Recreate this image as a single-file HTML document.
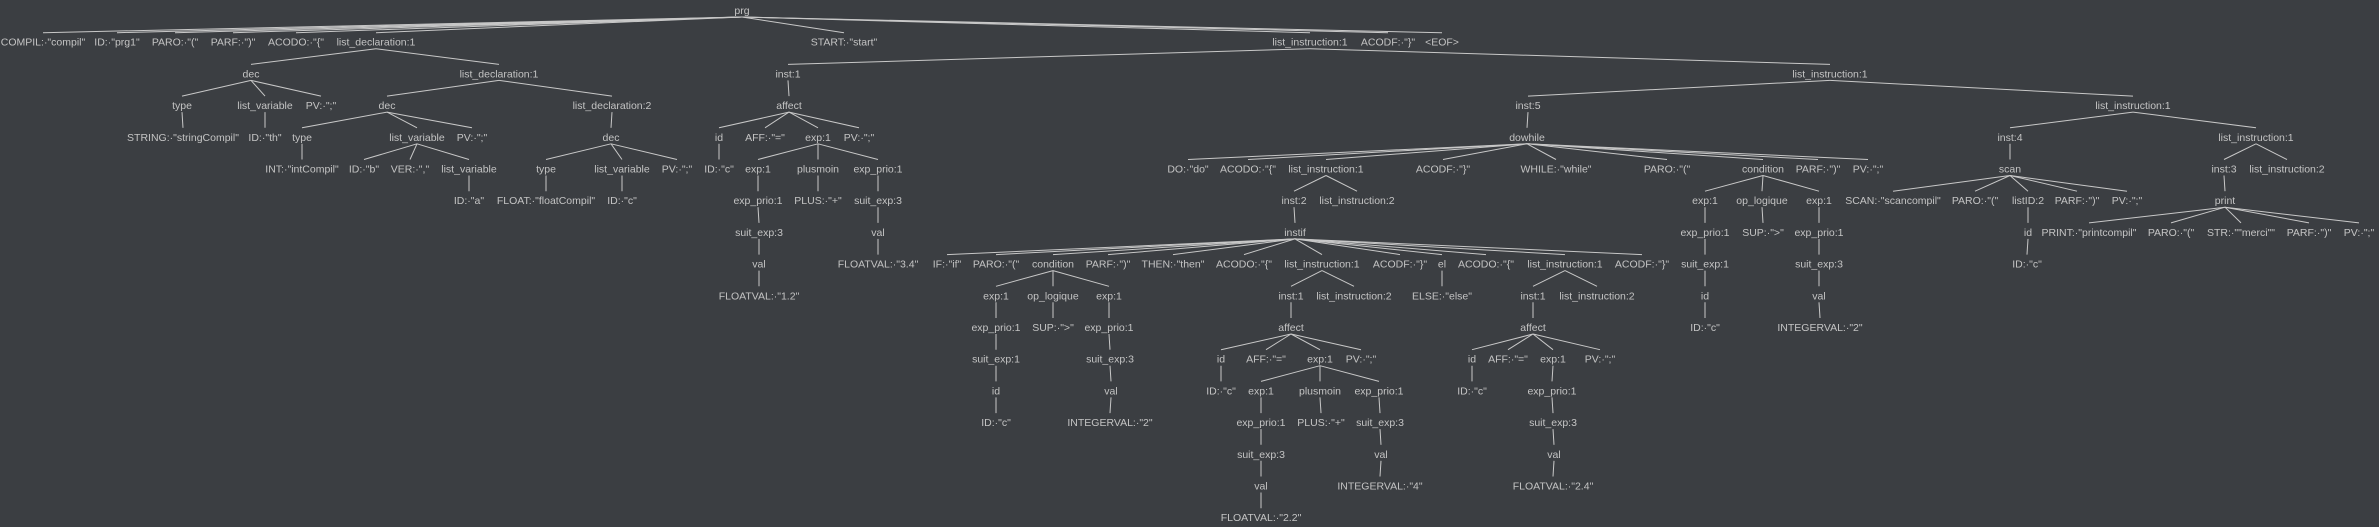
<!DOCTYPE html>
<html><head><meta charset="utf-8">
<style>
html,body{margin:0;padding:0;background:#3b3e42;width:2379px;height:527px;overflow:hidden}
svg{display:block}
text{font-family:"Liberation Sans",Arial,sans-serif;font-size:10.5px;fill:#c4c4c4;text-anchor:middle}
line{stroke:#c8c8c8;stroke-width:1}
</style></head><body>
<svg id="s" width="2379" height="527" xmlns="http://www.w3.org/2000/svg"></svg>
<script>
function n(l,x,c){return {l:l,x:x,c:c||[]};}
function L(l,x){return n(l,x);}
var tree=n('prg',742,[
 L('COMPIL:·"compil"',43),L('ID:·"prg1"',117),L('PARO:·"("',175),L('PARF:·")"',233),L('ACODO:·"{"',296),
 n('list_declaration:1',376,[
  n('dec',251,[n('type',182,[L('STRING:·"stringCompil"',183)]),n('list_variable',265,[L('ID:·"th"',265)]),L('PV:·";"',321)]),
  n('list_declaration:1',499,[
   n('dec',387,[n('type',302,[L('INT:·"intCompil"',302)]),
     n('list_variable',417,[L('ID:·"b"',364),L('VER:·","',410),n('list_variable',469,[L('ID:·"a"',469)])]),
     L('PV:·";"',472)]),
   n('list_declaration:2',612,[n('dec',611,[n('type',546,[L('FLOAT:·"floatCompil"',546)]),n('list_variable',622,[L('ID:·"c"',622)]),L('PV:·";"',677)])])
  ])
 ]),
 L('START:·"start"',844),
 n('list_instruction:1',1310,[
  n('inst:1',788,[n('affect',789,[
    n('id',719,[L('ID:·"c"',719)]),L('AFF:·"="',765),
    n('exp:1',818,[
      n('exp:1',758,[n('exp_prio:1',758,[n('suit_exp:3',759,[n('val',759,[L('FLOATVAL:·"1.2"',759)])])])]),
      n('plusmoin',818,[L('PLUS:·"+"',818)]),
      n('exp_prio:1',878,[n('suit_exp:3',878,[n('val',878,[L('FLOATVAL:·"3.4"',878)])])])
    ]),
    L('PV:·";"',859)])]),
  n('list_instruction:1',1830,[
   n('inst:5',1528,[n('dowhile',1527,[
     L('DO:·"do"',1188),L('ACODO:·"{"',1248),
     n('list_instruction:1',1326,[
       n('inst:2',1294,[n('instif',1295,[
         L('IF:·"if"',947),L('PARO:·"("',996),
         n('condition',1053,[
           n('exp:1',996,[n('exp_prio:1',996,[n('suit_exp:1',996,[n('id',996,[L('ID:·"c"',996)])])])]),
           n('op_logique',1053,[L('SUP:·">"',1053)]),
           n('exp:1',1109,[n('exp_prio:1',1109,[n('suit_exp:3',1110,[n('val',1111,[L('INTEGERVAL:·"2"',1110)])])])])
         ]),
         L('PARF:·")"',1108),L('THEN:·"then"',1173),L('ACODO:·"{"',1244),
         n('list_instruction:1',1322,[
           n('inst:1',1291,[n('affect',1291,[
             n('id',1221,[L('ID:·"c"',1221)]),L('AFF:·"="',1266),
             n('exp:1',1320,[
               n('exp:1',1261,[n('exp_prio:1',1261,[n('suit_exp:3',1261,[n('val',1261,[L('FLOATVAL:·"2.2"',1261)])])])]),
               n('plusmoin',1320,[L('PLUS:·"+"',1321)]),
               n('exp_prio:1',1379,[n('suit_exp:3',1380,[n('val',1381,[L('INTEGERVAL:·"4"',1380)])])])
             ]),
             L('PV:·";"',1361)])]),
           L('list_instruction:2',1354)]),
         L('ACODF:·"}"',1400),
         n('el',1442,[L('ELSE:·"else"',1442)]),
         L('ACODO:·"{"',1486),
         n('list_instruction:1',1565,[
           n('inst:1',1533,[n('affect',1533,[
             n('id',1472,[L('ID:·"c"',1472)]),L('AFF:·"="',1508),
             n('exp:1',1553,[n('exp_prio:1',1552,[n('suit_exp:3',1553,[n('val',1554,[L('FLOATVAL:·"2.4"',1553)])])])]),
             L('PV:·";"',1600)])]),
           L('list_instruction:2',1597)]),
         L('ACODF:·"}"',1642)
       ])]),
       L('list_instruction:2',1357)]),
     L('ACODF:·"}"',1443),L('WHILE:·"while"',1556),L('PARO:·"("',1667),
     n('condition',1763,[
       n('exp:1',1705,[n('exp_prio:1',1705,[n('suit_exp:1',1705,[n('id',1705,[L('ID:·"c"',1705)])])])]),
       n('op_logique',1762,[L('SUP:·">"',1763)]),
       n('exp:1',1819,[n('exp_prio:1',1819,[n('suit_exp:3',1819,[n('val',1819,[L('INTEGERVAL:·"2"',1820)])])])])
     ]),
     L('PARF:·")"',1818),L('PV:·";"',1868)
   ])]),
   n('list_instruction:1',2133,[
     n('inst:4',2010,[n('scan',2010,[L('SCAN:·"scancompil"',1893),L('PARO:·"("',1975),
       n('listID:2',2028,[n('id',2028,[L('ID:·"c"',2027)])]),L('PARF:·")"',2077),L('PV:·";"',2127)])]),
     n('list_instruction:1',2256,[
       n('inst:3',2224,[n('print',2225,[L('PRINT:·"printcompil"',2089),L('PARO:·"("',2171),L('STR:·""merci""',2241),L('PARF:·")"',2309),L('PV:·";"',2359)])]),
       L('list_instruction:2',2287)])
   ])
  ])
 ]),
 L('ACODF:·"}"',1388),L('<EOF>',1442)
]);
var s=document.getElementById('s'),NS='http://www.w3.org/2000/svg';
function Y(d){return 10+31.7*d;}
var lines=[],texts=[];
function walk(t,d){
  var e=document.createElementNS(NS,'text');
  e.setAttribute('x',t.x);e.setAttribute('y',(Y(d)+4).toFixed(1));e.textContent=t.l;texts.push(e);
  t.c.forEach(function(c){
    var l=document.createElementNS(NS,'line');
    l.setAttribute('x1',t.x);l.setAttribute('y1',(Y(d)+7).toFixed(1));
    l.setAttribute('x2',c.x);l.setAttribute('y2',(Y(d+1)-9).toFixed(1));
    lines.push(l);walk(c,d+1);
  });
}
walk(tree,0);
lines.forEach(function(l){s.appendChild(l);});
texts.forEach(function(t){s.appendChild(t);});
</script>
</body></html>
